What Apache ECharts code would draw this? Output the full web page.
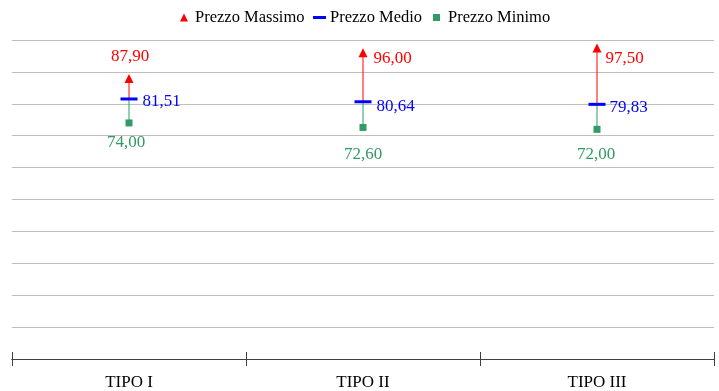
<!DOCTYPE html>
<html>
<head>
<meta charset="utf-8">
<script src="https://cdn.jsdelivr.net/npm/echarts@6/dist/echarts.min.js"></script>
<style>html,body{margin:0;padding:0;background:#fff}#c{width:719px;height:391px}</style>
</head>
<body>
<div id="c"></div>
<script>
var categories = ['TIPO I', 'TIPO II', 'TIPO III'];
var maxPrices = [87.90, 96.00, 97.50];
var meanPrices = [81.51, 80.64, 79.83];
var minPrices = [74.00, 72.60, 72.00];
var seriesNames = ['Prezzo Massimo', 'Prezzo Medio', 'Prezzo Minimo'];

var RED = '#ff0000', BLUE = '#0000ff', GREEN = '#339966';
var FONT = 'Liberation Serif';
function fmt(v) { return v.toFixed(2).replace('.', ','); }

// label placement per point (styles only)
var maxLabelPos = [
  {position: 'top', distance: 0, offset: [1, -9]},
  {position: 'right', distance: 6, offset: [0, 6]},
  {position: 'right', distance: 4, offset: [0, 11]}
];
var meanLabelPos = [
  {position: 'right', distance: 5, offset: [0, 3]},
  {position: 'right', distance: 5, offset: [0, 5]},
  {position: 'right', distance: 4, offset: [0, 3]}
];
var minLabelPos = [
  {position: 'bottom', distance: 0, offset: [-3, 8]},
  {position: 'bottom', distance: 0, offset: [0, 15]},
  {position: 'bottom', distance: 0, offset: [-1, 13]}
];

function mkData(vals, posArr) {
  return vals.map(function (v, i) {
    return {value: [i, v], label: posArr[i]};
  });
}

var rangeData = categories.map(function (c, i) {
  return [i, minPrices[i], meanPrices[i], maxPrices[i]];
});

var legendText = {fontFamily: FONT, fontSize: 16.5, color: '#000'};

var chart = echarts.init(document.getElementById('c'));
chart.setOption({
  animation: false,
  textStyle: {fontFamily: FONT},
  grid: {left: 12, right: 5, top: 40, bottom: 31},
  legend: [
    {left: 180, top: 9, padding: 0, itemWidth: 8, itemHeight: 8,
     data: [{name: seriesNames[0], icon: 'triangle'}],
     textStyle: Object.assign({padding: [0,0,0,2]}, legendText)},
    {left: 313, top: 9, padding: 0, itemWidth: 13, itemHeight: 3,
     data: [{name: seriesNames[1], icon: 'rect'}],
     textStyle: Object.assign({padding: [0,0,0,-1]}, legendText)},
    {left: 433, top: 9, padding: 0, itemWidth: 7, itemHeight: 7,
     data: [{name: seriesNames[2], icon: 'rect'}],
     textStyle: Object.assign({padding: [0,0,0,3]}, legendText)}
  ],
  xAxis: [
    {type: 'category', data: categories, boundaryGap: true,
     axisLine: {show: true, lineStyle: {color: '#404040', width: 1}},
     axisTick: {show: true, inside: false, length: 7, lineStyle: {color: '#404040'}},
     axisLabel: {fontFamily: FONT, fontSize: 17, color: '#000', margin: 15},
     splitLine: {show: false}},
    {type: 'category', data: categories, boundaryGap: true, position: 'bottom',
     axisLine: {show: true, lineStyle: {color: '#404040', width: 1}},
     axisTick: {show: true, inside: true, length: 7, lineStyle: {color: '#404040'}},
     axisLabel: {show: false}, splitLine: {show: false}}
  ],
  yAxis: {
    type: 'value', min: 0, max: 100, interval: 10,
    axisLine: {show: false}, axisTick: {show: false}, axisLabel: {show: false},
    splitLine: {show: true, lineStyle: {color: '#bfbfbf', width: 1}}
  },
  series: [
    {
      type: 'custom', name: 'range', z: 1, silent: true,
      data: rangeData,
      renderItem: function (params, api) {
        var x = api.value(0);
        var pMin = api.coord([x, api.value(1)]);
        var pMean = api.coord([x, api.value(2)]);
        var pMax = api.coord([x, api.value(3)]);
        return {
          type: 'group',
          children: [
            {type: 'line', shape: {x1: pMin[0], y1: pMin[1], x2: pMean[0], y2: pMean[1]},
             style: {stroke: GREEN, lineWidth: 1}},
            {type: 'line', shape: {x1: pMean[0], y1: pMean[1], x2: pMax[0], y2: pMax[1]},
             style: {stroke: RED, lineWidth: 1}}
          ]
        };
      }
    },
    {
      type: 'scatter', name: seriesNames[0], z: 3,
      symbol: 'triangle', symbolSize: [9, 9],
      itemStyle: {color: RED, opacity: 1},
      label: {show: true, color: RED, fontFamily: FONT, fontSize: 17,
              formatter: function (p) { return fmt(p.value[1]); }},
      data: mkData(maxPrices, maxLabelPos)
    },
    {
      type: 'scatter', name: seriesNames[1], z: 3,
      symbol: 'rect', symbolSize: [17, 3],
      itemStyle: {color: BLUE, opacity: 1},
      label: {show: true, color: BLUE, fontFamily: FONT, fontSize: 17,
              formatter: function (p) { return fmt(p.value[1]); }},
      data: mkData(meanPrices, meanLabelPos)
    },
    {
      type: 'scatter', name: seriesNames[2], z: 3,
      symbol: 'rect', symbolSize: [7, 7],
      itemStyle: {color: GREEN, opacity: 1},
      label: {show: true, color: GREEN, fontFamily: FONT, fontSize: 17,
              formatter: function (p) { return fmt(p.value[1]); }},
      data: mkData(minPrices, minLabelPos)
    }
  ]
});
</script>
</body>
</html>
